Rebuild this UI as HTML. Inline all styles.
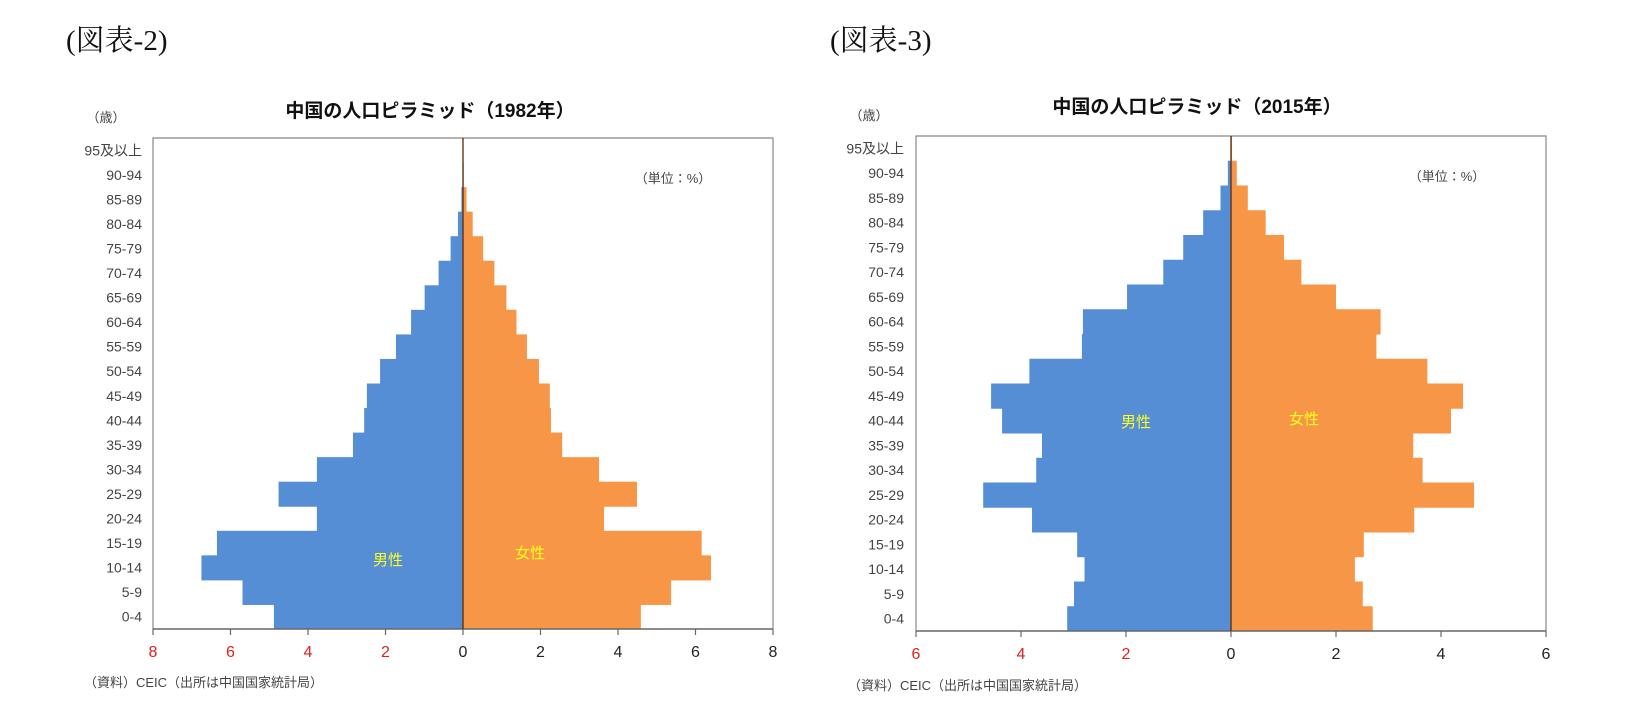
<!DOCTYPE html>
<html><head><meta charset="utf-8"><style>
html,body{margin:0;padding:0;background:#fff;}
svg{display:block;font-family:"Liberation Sans","Noto Sans CJK JP",sans-serif;}
</style></head><body>
<svg id="svg" width="1636" height="714" viewBox="0 0 1636 714">
<text x="66" y="50" font-size="29" font-family="'Liberation Serif','Noto Serif CJK SC',serif" fill="#111">(図表-2)</text>
<text x="830" y="50" font-size="29" font-family="'Liberation Serif','Noto Serif CJK SC',serif" fill="#111">(図表-3)</text>
</svg>
<script>
const ageLabels = ["0-4","5-9","10-14","15-19","20-24","25-29","30-34","35-39","40-44","45-49","50-54","55-59","60-64","65-69","70-74","75-79","80-84","85-89","90-94","95及以上"];
const male1982 = [4.88,5.69,6.75,6.35,3.77,4.76,3.77,2.84,2.55,2.48,2.14,1.73,1.34,0.99,0.63,0.32,0.13,0.04,0.01,0];
const female1982 = [4.59,5.37,6.40,6.16,3.64,4.49,3.51,2.56,2.27,2.24,1.96,1.65,1.38,1.12,0.81,0.52,0.25,0.09,0.02,0];
const ticks1982 = [-8,-6,-4,-2,0,2,4,6,8];
const male2015 = [3.12,2.99,2.79,2.93,3.79,4.72,3.71,3.60,4.36,4.57,3.84,2.84,2.82,1.98,1.29,0.91,0.53,0.20,0.06,0.01];
const female2015 = [2.70,2.51,2.36,2.53,3.49,4.63,3.65,3.47,4.19,4.42,3.74,2.77,2.85,2.00,1.34,1.01,0.66,0.32,0.11,0.02];
const ticks2015 = [-6,-4,-2,0,2,4,6];

const NS = "http://www.w3.org/2000/svg";
const svg = document.getElementById('svg');
function mk(tag, attrs, parent){
  const e = document.createElementNS(NS, tag);
  for (const k in attrs) e.setAttribute(k, attrs[k]);
  (parent||svg).appendChild(e);
  return e;
}
function chart(cfg){
  const g = mk('g', {});
  
  
  const max = cfg.ticks[cfg.ticks.length-1];
  const x = v => cfg.zero + v * (cfg.right - cfg.zero) / max;
  const n = ageLabels.length;
  const rh = (cfg.bottom - cfg.top) / n;
  const yRow = i => cfg.bottom - (i + 1) * rh;
  // bars
  for (let i = 0; i < n; i++){
    const m = mk('rect', {x: x(-cfg.male[i]), y: yRow(i), width: x(0) - x(-cfg.male[i]), height: rh + 0.5, fill: '#558ed5'}, g);
    
    
    const f = mk('rect', {x: x(0), y: yRow(i), width: x(cfg.female[i]) - x(0), height: rh + 0.5, fill: '#f79646'}, g);
    
    
    const t = mk('text', {x: cfg.labelX, y: yRow(i) + rh/2 + 5, 'text-anchor': 'end', 'font-size': 14, fill: '#444'}, g);
    t.textContent = ageLabels[i];
    
    
  }
  // frame
  const fr = mk('path', {d: `M${cfg.left},${cfg.bottom} V${cfg.top} H${cfg.right} V${cfg.bottom}`, fill: 'none', stroke: '#888', 'stroke-width': 1.2}, g);
  
  
  const ax = mk('line', {x1: cfg.left, x2: cfg.right, y1: cfg.bottom, y2: cfg.bottom, stroke: '#666', 'stroke-width': 1.5}, g);
  
  
  const cl = mk('line', {x1: x(0), x2: x(0), y1: cfg.top, y2: cfg.bottom, stroke: '#5a2a0a', 'stroke-width': 1.3}, g);
  
  
  cfg.ticks.forEach(tv => {
    const tk = mk('line', {x1: x(tv), x2: x(tv), y1: cfg.bottom, y2: cfg.bottom + 6, stroke: '#666', 'stroke-width': 1.2}, g);
    
    
    const tl = mk('text', {x: x(tv), y: cfg.bottom + 28, 'text-anchor': 'middle', 'font-size': 16, fill: tv < 0 ? '#e02020' : '#222'}, g);
    tl.textContent = Math.abs(tv);
    
    
  });
  const title = mk('text', {x: cfg.titleX, y: cfg.titleY, 'text-anchor': 'middle', 'font-size': 19, 'font-weight': 'bold', fill: '#111'}, g);
  title.textContent = cfg.title;
  
  
  const ya = mk('text', {x: cfg.saiX, y: cfg.saiY, 'text-anchor': 'middle', 'font-size': 13, fill: '#444'}, g);
  ya.textContent = '（歳）';
  
  
  const un = mk('text', {x: cfg.unitX, y: cfg.unitY, 'text-anchor': 'middle', 'font-size': 13, fill: '#444'}, g);
  un.textContent = '（単位：%）';
  
  
  const ml = mk('text', {x: cfg.mX, y: cfg.mY, 'text-anchor': 'middle', 'font-size': 15, fill: '#ffff20'}, g);
  ml.textContent = '男性';
  
  
  const fl = mk('text', {x: cfg.fX, y: cfg.fY, 'text-anchor': 'middle', 'font-size': 15, fill: '#ffff20'}, g);
  fl.textContent = '女性';
  
  
  const src = mk('text', {x: cfg.srcX, y: cfg.srcY, 'font-size': 13, fill: '#444'}, g);
  src.textContent = '（資料）CEIC（出所は中国国家統計局）';
  
  
}
chart({name:'pyramid-1982', male: male1982, female: female1982, ticks: ticks1982,
  left:153, zero:463, right:773, top:138, bottom:629, labelX:142,
  title:'中国の人口ピラミッド（1982年）', titleX:430, titleY:117, saiX:106, saiY:122,
  unitX:673, unitY:183, mX:388, mY:565, fX:530, fY:558, srcX:84, srcY:687});
chart({name:'pyramid-2015', male: male2015, female: female2015, ticks: ticks2015,
  left:916, zero:1231, right:1546, top:136, bottom:631, labelX:904,
  title:'中国の人口ピラミッド（2015年）', titleX:1197, titleY:113, saiX:869, saiY:120,
  unitX:1447, unitY:181, mX:1136, mY:427, fX:1304, fY:424, srcX:848, srcY:690});
</script>
</body></html>
